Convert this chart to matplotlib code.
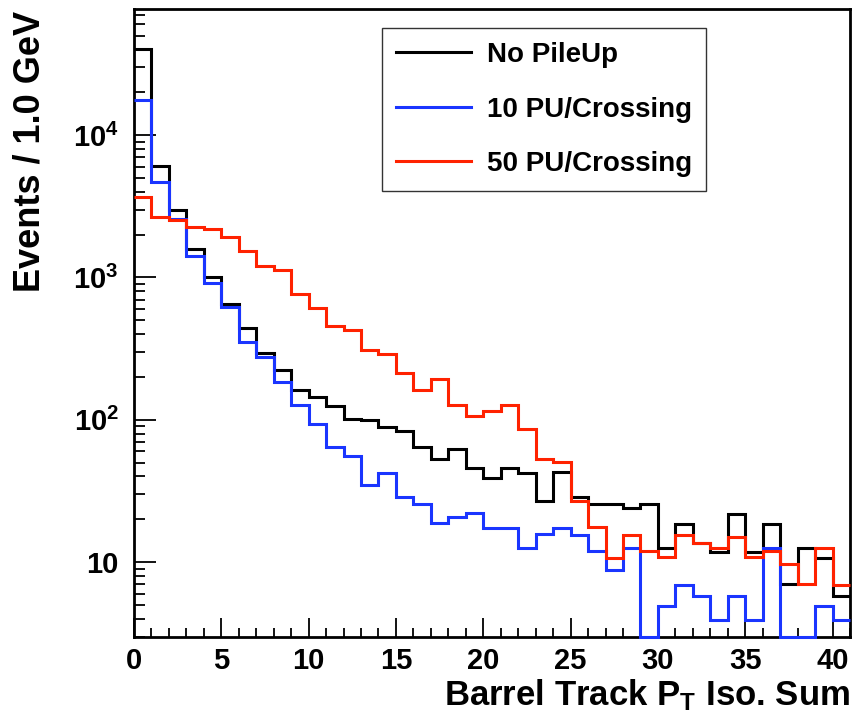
import numpy as np
import matplotlib
matplotlib.use('Agg')
import matplotlib.pyplot as plt
from matplotlib.ticker import FixedLocator, LogLocator, NullFormatter, FixedFormatter


plt.rcParams['font.family'] = ['Liberation Sans', 'DejaVu Sans']
plt.rcParams['font.weight'] = 'bold'
plt.rcParams['mathtext.fontset'] = 'custom'
plt.rcParams['mathtext.rm'] = 'Liberation Sans:bold'
plt.rcParams['mathtext.it'] = 'Liberation Sans:bold'
plt.rcParams['mathtext.bf'] = 'Liberation Sans:bold'

# 1 GeV bins from 0 to 41
edges = np.arange(0, 42, 1.0)

no_pileup = [40300, 6070, 3000, 1585, 1000, 650, 440, 295, 224, 162,
             144, 124, 101, 99, 89, 83, 64, 53, 62, 45.6,
             39.2, 45.6, 42, 27, 43.3, 28.5, 25.6, 25.6, 23.8, 25.6,
             12.6, 18.4, 13.7, 11.8, 21.6, 11.8, 18.4, 7.0, 12.6, 10.6,
             5.8]

pu10 = [17660, 4680, 2580, 1420, 908, 618, 354, 275, 183, 126,
        93, 64, 56, 35, 42, 28.8, 25.8, 18.7, 20.8, 22.2,
        17.5, 17.5, 12.5, 15.7, 17.5, 15.5, 12.0, 8.8, 12.6, 0,
        4.9, 6.9, 5.8, 3.9, 5.8, 3.9, 12.6, 0, 0, 4.9,
        3.9]

pu50 = [3670, 2680, 2514, 2280, 2180, 1937, 1525, 1210, 1128, 767,
        610, 454, 430, 307, 291, 214, 161, 192, 128, 107,
        115, 126, 86, 52.8, 50.3, 26.7, 17.6, 10.7, 15.5, 12.0,
        10.9, 15.5, 13.7, 12.5, 14.9, 10.9, 12.0, 9.75, 7.0, 12.6,
        6.9]

series = [
    (no_pileup, 'No PileUp', '#000000'),
    (pu10, '10 PU/Crossing', '#1a35ff'),
    (pu50, '50 PU/Crossing', '#ff2200'),
]

ymin, ymax = 3, 77000

fig = plt.figure(figsize=(8.53, 7.19), dpi=100)
W, H = 853, 719
ax = fig.add_axes([134 / W, (H - 636.5) / H, (850 - 134) / W, (636.5 - 9) / H])
ax.set_yscale('log', nonpositive='clip')

for vals, label, col in series:
    # empty bins sit on the lower edge of the frame
    shown = np.maximum(np.asarray(vals, dtype=float), ymin)
    ax.stairs(shown, edges, baseline=None, color=col, lw=2.2, label=label,
              zorder=3, clip_on=False)

ax.set_xlim(0, 41)
ax.set_ylim(ymin, ymax)

# ticks: inside, bottom/left only
ax.xaxis.set_major_locator(FixedLocator([0, 5, 10, 15, 20, 25, 30, 35, 40]))
ax.xaxis.set_minor_locator(FixedLocator(np.arange(0, 42, 1)))
ax.yaxis.set_major_locator(FixedLocator([10, 100, 1000, 10000]))
ax.yaxis.set_major_formatter(FixedFormatter(['10', '10$^2$', '10$^3$', '10$^4$']))
ax.yaxis.set_minor_locator(LogLocator(base=10, subs=np.arange(2, 10)))
ax.yaxis.set_minor_formatter(NullFormatter())

ax.tick_params(axis='both', which='both', direction='in', top=False, right=False,
               width=1.3, labelsize=21)
ax.tick_params(axis='x', which='major', length=13.5, pad=7.5)
ax.tick_params(axis='x', which='minor', length=6.8)
ax.tick_params(axis='y', which='major', length=15.8, pad=11)
ax.tick_params(axis='y', which='minor', length=7.7)

for sp in ax.spines.values():
    sp.set_linewidth(2.0)

fig.text(850 / W, 1 - 705 / H, 'Barrel Track P$_T$ Iso. Sum', ha='right',
         va='baseline', fontsize=25, fontweight='bold')
fig.text(30 / W, 1 - 11 / H, 'Events / 1.0 GeV', rotation=90, ha='center',
         va='top', fontsize=26, fontweight='bold')

leg = ax.legend(loc='upper left', bbox_to_anchor=(381.7 / W, 1 - 28.3 / H),
                bbox_transform=fig.transFigure, borderaxespad=0,
                fontsize=20, handlelength=2.7, handletextpad=0.6,
                borderpad=0.5, labelspacing=1.02, fancybox=False,
                framealpha=1, edgecolor='#333333')
leg.get_frame().set_linewidth(1.0)
for h in leg.get_lines():
    h.set_linewidth(2.2)

fig.savefig('out.png', dpi=100)
